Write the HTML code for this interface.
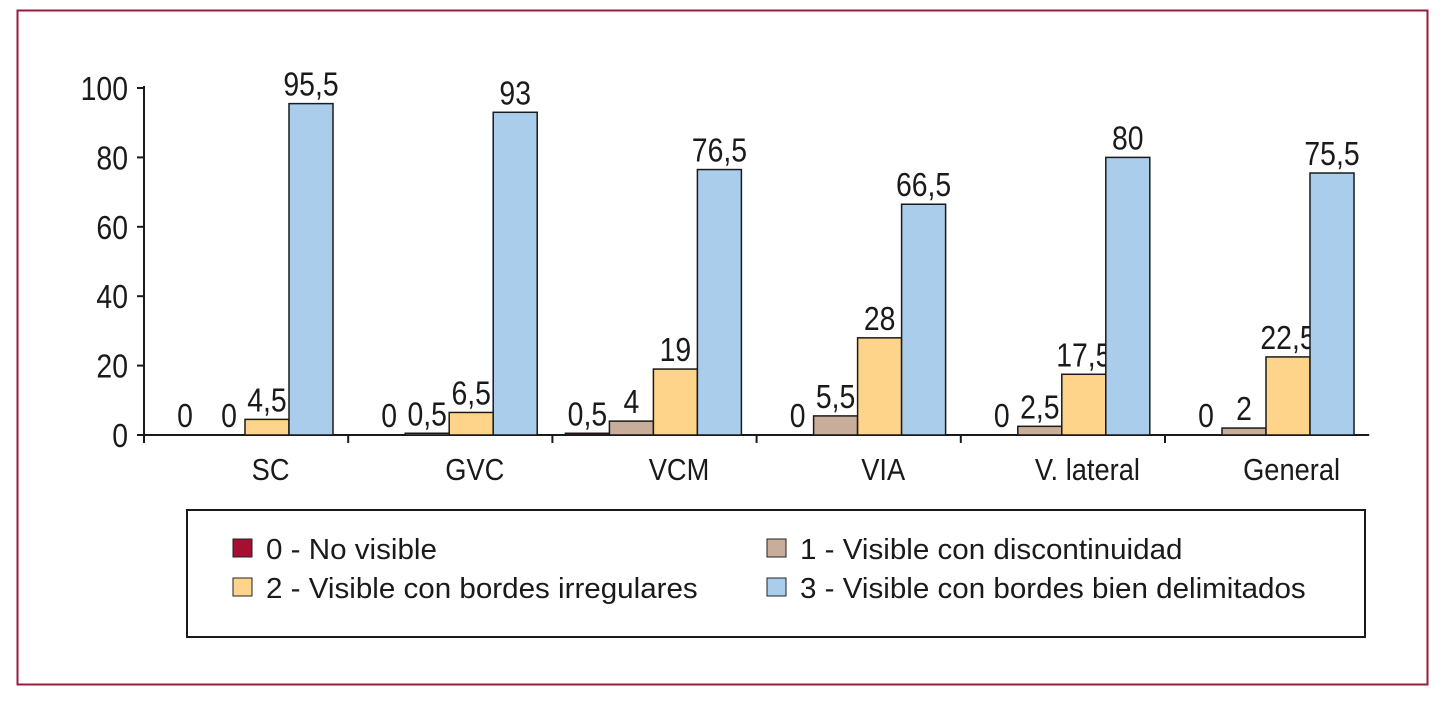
<!DOCTYPE html>
<html><head><meta charset="utf-8"><style>
html,body{margin:0;padding:0;background:#fff;}
svg text{font-family:"Liberation Sans",sans-serif;fill:#1a1a1a;}
</style></head><body>
<svg width="1445" height="704" viewBox="0 0 1445 704" xmlns="http://www.w3.org/2000/svg">
<rect x="17.5" y="10.5" width="1410" height="674" fill="none" stroke="#9b1b3f" stroke-width="2"/>
<g id="chart"></g>
<rect x="187" y="510" width="1178" height="127" fill="none" stroke="#1a1a1a" stroke-width="2"/>
<g><rect x="233" y="539" width="19" height="18" fill="#a50f32" stroke="#222" stroke-width="1"/><text transform="translate(266,559) scale(1.02,1)" font-size="29">0 - No visible</text></g>
<g><rect x="767" y="539" width="19" height="18" fill="#c8ad9a" stroke="#222" stroke-width="1"/><text transform="translate(800,559) scale(1.02,1)" font-size="29">1 - Visible con discontinuidad</text></g>
<g><rect x="233" y="578" width="19" height="18" fill="#fdd48a" stroke="#222" stroke-width="1"/><text transform="translate(266,598) scale(1.02,1)" font-size="29">2 - Visible con bordes irregulares</text></g>
<g><rect x="767" y="578" width="19" height="18" fill="#abcdec" stroke="#222" stroke-width="1"/><text transform="translate(800,598) scale(1.02,1)" font-size="29">3 - Visible con bordes bien delimitados</text></g>
</svg>
<script>
const categories=["SC","GVC","VCM","VIA","V. lateral","General"];
const s0=[0,0,0.5,0,0,0];
const s1=[0,0.5,4,5.5,2.5,2];
const s2=[4.5,6.5,19,28,17.5,22.5];
const s3=[95.5,93,76.5,66.5,80,75.5];
const labels0=["0","0","0,5","0","0","0"];
const labels1=["0","0,5","4","5,5","2,5","2"];
const labels2=["4,5","6,5","19","28","17,5","22,5"];
const labels3=["95,5","93","76,5","66,5","80","75,5"];
const yTicks=[0,20,40,60,80,100];
const series=[s0,s1,s2,s3], labs=[labels0,labels1,labels2,labels3];
const colors=["#a50f32","#c8ad9a","#fdd48a","#abcdec"];
const NS="http://www.w3.org/2000/svg";
const g=document.getElementById("chart");
const x0=144,y0=435,ppu=3.47,gw=204.2,bw=44;
const Y=v=>y0-v*ppu;
function mk(t,a){const e=document.createElementNS(NS,t);for(const k in a)e.setAttribute(k,a[k]);g.appendChild(e);return e;}
function txt(x,y,size,sx,anchor,s){const e=mk("text",{transform:`translate(${x},${y}) scale(${sx},1)`,"font-size":size,"text-anchor":anchor});e.textContent=s;return e;}
let e=mk("line",{x1:x0,y1:Y(100)-2,x2:x0,y2:y0+8,stroke:"#1a1a1a","stroke-width":2});


e=mk("line",{x1:x0,y1:y0,x2:x0+gw*categories.length,y2:y0,stroke:"#1a1a1a","stroke-width":2});


yTicks.forEach(t=>{
  const l=mk("line",{x1:x0-7,y1:Y(t),x2:x0,y2:Y(t),stroke:"#1a1a1a","stroke-width":2});
  
  
  const tx=txt(x0-16,Y(t)+12,33,0.86,"end",String(t));
  
  
});
categories.forEach((c,i)=>{
  const gx=x0+gw*i;
  if(i>0){const l=mk("line",{x1:gx,y1:y0,x2:gx,y2:y0+8,stroke:"#1a1a1a","stroke-width":2});
    
    }
  const ct=txt(gx+gw*0.62,y0+45,31,0.88,"middle",c);
  
  
  series.forEach((s,k)=>{
    const bx=gx+13+k*bw, v=s[i];
    if(v>0){const r=mk("rect",{x:bx,y:Y(v),width:bw,height:v*ppu,fill:colors[k],stroke:"#1a1a1a","stroke-width":1.5});
      
      }
    const vt=txt(bx+bw/2+(v===0?6:0),Y(v)-8,33,0.86,"middle",labs[k][i]);
    
    
  });
});
</script>
</body></html>
